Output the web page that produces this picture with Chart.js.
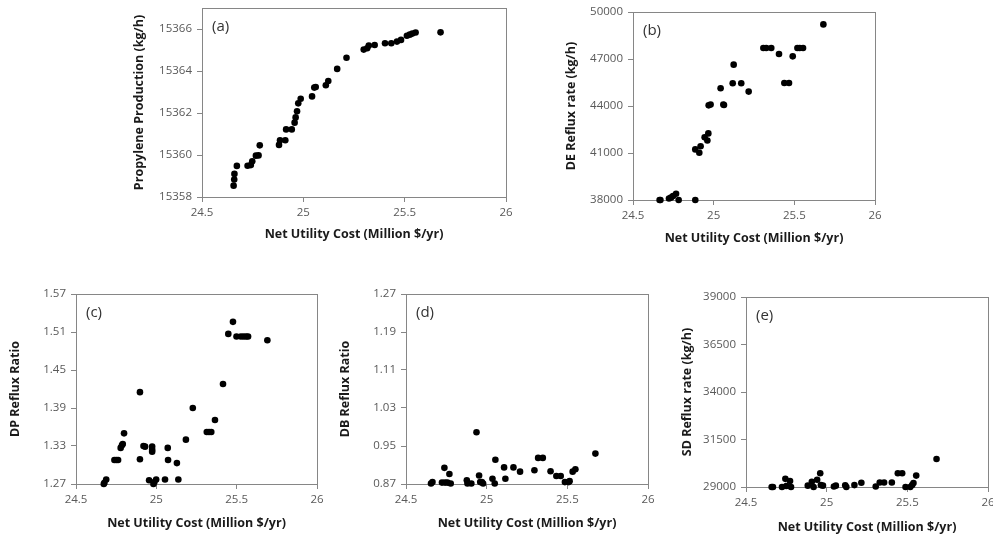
<!DOCTYPE html>
<html>
<head>
<meta charset="utf-8">
<script src="https://cdn.jsdelivr.net/npm/chart.js@4.4.0/dist/chart.umd.min.js"></script>
<style>
  html, body { margin: 0; padding: 0; background: #fff; overflow: hidden; }
  body { width: 993px; height: 535px; position: relative; }
  canvas { position: absolute; }
</style>
</head>
<body>
<canvas id="chartA" width="390" height="248" style="left:132px;top:-6px"></canvas>
<canvas id="chartB" width="327" height="248" style="left:564px;top:-2px"></canvas>
<canvas id="chartC" width="325" height="251" style="left:8px;top:280px"></canvas>
<canvas id="chartD" width="326" height="251" style="left:338px;top:280px"></canvas>
<canvas id="chartE" width="324" height="252" style="left:680px;top:283px"></canvas>
<script>
// x axis shared by all panels
const costTicks = [24.5, 25, 25.5, 26];

// (a) propylene production
const costA = [24.656, 24.659, 24.660, 24.672, 24.725, 24.741, 24.748, 24.766, 24.779, 24.785,
  24.880, 24.885, 24.911, 24.915, 24.943, 24.957, 24.962, 24.969, 24.975, 24.987,
  25.043, 25.054, 25.061, 25.111, 25.123, 25.167, 25.213, 25.298, 25.315, 25.323,
  25.352, 25.403, 25.434, 25.462, 25.482, 25.511, 25.525, 25.538, 25.554, 25.677];
const propylene = [15358.54, 15358.83, 15359.10, 15359.48, 15359.49, 15359.52, 15359.70, 15359.97, 15359.98, 15360.46,
  15360.48, 15360.70, 15360.70, 15361.22, 15361.22, 15361.54, 15361.79, 15362.08, 15362.46, 15362.68,
  15362.79, 15363.21, 15363.24, 15363.32, 15363.52, 15364.10, 15364.63, 15365.02, 15365.08, 15365.21,
  15365.24, 15365.32, 15365.32, 15365.40, 15365.48, 15365.68, 15365.73, 15365.78, 15365.83, 15365.84];
const propyleneTicks = [15358, 15360, 15362, 15364, 15366];

// (b) DE reflux rate
const costB = [24.665, 24.670, 24.723, 24.735, 24.748, 24.767, 24.783, 24.886, 24.886, 24.911,
  24.919, 24.944, 24.961, 24.967, 24.969, 24.981, 25.043, 25.060, 25.064, 25.118,
  25.124, 25.171, 25.217, 25.308, 25.326, 25.357, 25.405, 25.438, 25.467, 25.490,
  25.519, 25.533, 25.554, 25.680];
const deReflux = [38000, 38000, 38100, 38150, 38250, 38400, 38000, 38000, 41230, 41020,
  41430, 42000, 41800, 42250, 44040, 44090, 45130, 44100, 44060, 45450,
  46640, 45450, 44920, 47700, 47700, 47700, 47320, 45470, 45470, 47170,
  47700, 47700, 47700, 49210];
const deTicks = [38000, 41000, 44000, 47000, 50000];

// (c) DP reflux ratio
const costC = [24.673, 24.677, 24.688, 24.739, 24.751, 24.762, 24.778, 24.786, 24.791, 24.799,
  24.898, 24.898, 24.920, 24.930, 24.955, 24.974, 24.974, 24.974, 24.982, 24.988,
  24.999, 25.054, 25.071, 25.073, 25.128, 25.137, 25.184, 25.227, 25.314, 25.328,
  25.342, 25.365, 25.415, 25.448, 25.477, 25.499, 25.526, 25.543, 25.559, 25.571, 25.691];
const dpRatio = [1.270, 1.272, 1.277, 1.308, 1.308, 1.308, 1.327, 1.331, 1.333, 1.350,
  1.415, 1.309, 1.330, 1.329, 1.276, 1.329, 1.324, 1.321, 1.270, 1.273,
  1.277, 1.277, 1.327, 1.308, 1.303, 1.277, 1.340, 1.390, 1.352, 1.352,
  1.352, 1.371, 1.428, 1.507, 1.526, 1.503, 1.503, 1.503, 1.503, 1.503, 1.497];
const dpTicks = [1.27, 1.33, 1.39, 1.45, 1.51, 1.57];

// (d) DB reflux ratio
const costD = [24.655, 24.664, 24.723, 24.738, 24.742, 24.757, 24.769, 24.777, 24.877, 24.881,
  24.905, 24.937, 24.953, 24.960, 24.970, 24.978, 25.036, 25.050, 25.054, 25.108,
  25.116, 25.166, 25.207, 25.296, 25.319, 25.348, 25.396, 25.432, 25.459, 25.485,
  25.508, 25.514, 25.533, 25.550, 25.674];
const dbRatio = [0.871, 0.874, 0.873, 0.904, 0.873, 0.873, 0.891, 0.871, 0.878, 0.871,
  0.871, 0.979, 0.888, 0.874, 0.874, 0.871, 0.881, 0.871, 0.921, 0.905,
  0.881, 0.905, 0.896, 0.899, 0.925, 0.925, 0.897, 0.887, 0.887, 0.874,
  0.874, 0.876, 0.896, 0.901, 0.934];
const dbTicks = [0.87, 0.95, 1.03, 1.11, 1.19, 1.27];

// (e) SD reflux rate
const costE = [24.659, 24.667, 24.723, 24.744, 24.750, 24.773, 24.779, 24.883, 24.908, 24.919,
  24.941, 24.960, 24.964, 24.977, 25.045, 25.057, 25.115, 25.122, 25.172, 25.215,
  25.304, 25.329, 25.356, 25.404, 25.441, 25.468, 25.489, 25.518, 25.530, 25.538,
  25.555, 25.681];
const sdReflux = [29000, 29000, 29000, 29430, 29050, 29310, 29000, 29070, 29280, 29000,
  29380, 29720, 29100, 29070, 29030, 29070, 29090, 29000, 29100, 29220,
  29030, 29240, 29240, 29240, 29720, 29720, 29000, 29000, 29100, 29210,
  29600, 30470];
const sdTicks = [29000, 31500, 34000, 36500, 39000];

Chart.defaults.font.family = '"Open Sans", sans-serif';

const AXIS_GREY = '#868686';

// plot-area border + panel letter
const frame = {
  id: 'frame',
  beforeDatasetsDraw(chart, args, opts) {
    const { ctx, chartArea: a } = chart;
    ctx.save();
    ctx.strokeStyle = AXIS_GREY;
    ctx.lineWidth = 1;
    ctx.strokeRect(Math.round(a.left) + 0.5, Math.round(a.top) + 0.5,
      Math.round(a.right - a.left), Math.round(a.bottom - a.top));
    ctx.fillStyle = '#333';
    ctx.font = '15px "Open Sans", sans-serif';
    ctx.textBaseline = 'middle';
    ctx.fillText(opts.tag, a.left + 10, a.top + 19);
    ctx.restore();
  }
};

const useTicks = list => scale => {
  scale.ticks = list.map(v => ({ value: v }));
};

const config = (tag, xs, ys, yTicks, yMax, yTitle, yw, xh) => ({
  type: 'scatter',
  data: {
    datasets: [{
      data: xs.map((x, i) => ({ x: x, y: ys[i] })),
      backgroundColor: '#000',
      borderColor: '#000',
      borderWidth: 0,
      pointRadius: 3.3,
      pointHoverRadius: 3.3,
      clip: false
    }]
  },
  options: {
    responsive: false,
    animation: false,
    layout: { padding: { top: 14, right: 16, left: 0, bottom: 0 } },
    plugins: {
      legend: { display: false },
      tooltip: { enabled: false },
      frame: { tag: tag }
    },
    scales: {
      x: {
        type: 'linear',
        min: costTicks[0],
        max: costTicks[costTicks.length - 1],
        afterBuildTicks: useTicks(costTicks),
        afterFit: s => { s.height = xh; },
        ticks: { color: '#595959', font: { size: 11.5 }, padding: 4, maxRotation: 0, callback: v => String(v) },
        grid: { drawOnChartArea: false, tickLength: 5, color: AXIS_GREY },
        border: { display: false },
        title: { display: true, text: 'Net Utility Cost (Million $/yr)', color: '#1a1a1a', font: { size: 12.5, weight: 'bold' }, padding: 0 }
      },
      y: {
        type: 'linear',
        min: yTicks[0],
        max: yMax,
        afterBuildTicks: useTicks(yTicks),
        afterFit: s => { s.width = yw; },
        ticks: { color: '#595959', font: { size: 11.5 }, padding: 5, callback: v => String(v) },
        grid: { drawOnChartArea: false, tickLength: 5, color: AXIS_GREY },
        border: { display: false },
        title: { display: true, text: yTitle, color: '#1a1a1a', font: { size: 12.5, weight: 'bold' }, padding: 0 }
      }
    }
  },
  plugins: [frame]
});

const chartA = new Chart(document.getElementById('chartA').getContext('2d'),
  config('(a)', costA, propylene, propyleneTicks, 15367, 'Propylene Production (kg/h)', 70, 45));
const chartB = new Chart(document.getElementById('chartB').getContext('2d'),
  config('(b)', costB, deReflux, deTicks, 50000, 'DE Reflux rate (kg/h)', 69, 46));
const chartC = new Chart(document.getElementById('chartC').getContext('2d'),
  config('(c)', costC, dpRatio, dpTicks, 1.57, 'DP Reflux Ratio', 68, 47));
const chartD = new Chart(document.getElementById('chartD').getContext('2d'),
  config('(d)', costD, dbRatio, dbTicks, 1.27, 'DB Reflux Ratio', 68, 47));
const chartE = new Chart(document.getElementById('chartE').getContext('2d'),
  config('(e)', costE, sdReflux, sdTicks, 39000, 'SD Reflux rate (kg/h)', 66, 48));
</script>
</body>
</html>
